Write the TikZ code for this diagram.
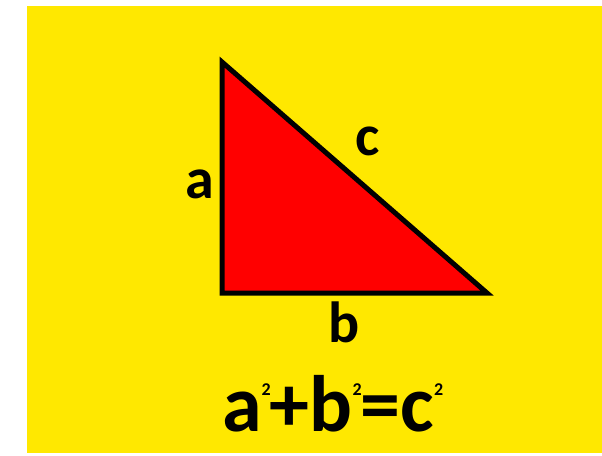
\documentclass[tikz,border=0pt]{standalone}
\usepackage{fontspec}
\setmainfont{Carlito}
\definecolor{bg}{HTML}{FFE800}
\definecolor{tri}{HTML}{FF0000}
\newcommand{\sq}{\raisebox{0.44em}{\fontsize{18}{18}\selectfont\bfseries 2}}
\begin{document}
\begin{tikzpicture}[x=1pt,y=-1pt,
  lbl/.style={font=\fontsize{58}{58}\selectfont\bfseries, inner sep=0pt, anchor=base},
  formula/.style={font=\fontsize{80}{80}\selectfont\bfseries, inner sep=0pt, anchor=base west}]
\useasboundingbox (0,0) rectangle (602,455);
\fill[bg] (27,6) rectangle (602,453);
\coordinate (A) at (222,62);
\coordinate (B) at (222,293);
\coordinate (C) at (487,293);
\filldraw[fill=tri, draw=black, line width=5pt, line join=miter] (A) -- (B) -- (C) -- cycle;
\node[lbl] (la) at (200,198) {a};
\node[lbl] (lc) at (368,155) {c};
\node[lbl] (lb) at (344,342) {b};
\node[formula] (eq) at (222,431) {a\sq\kern-1pt+b\sq\kern-1pt=c\sq};
\end{tikzpicture}
\end{document}
